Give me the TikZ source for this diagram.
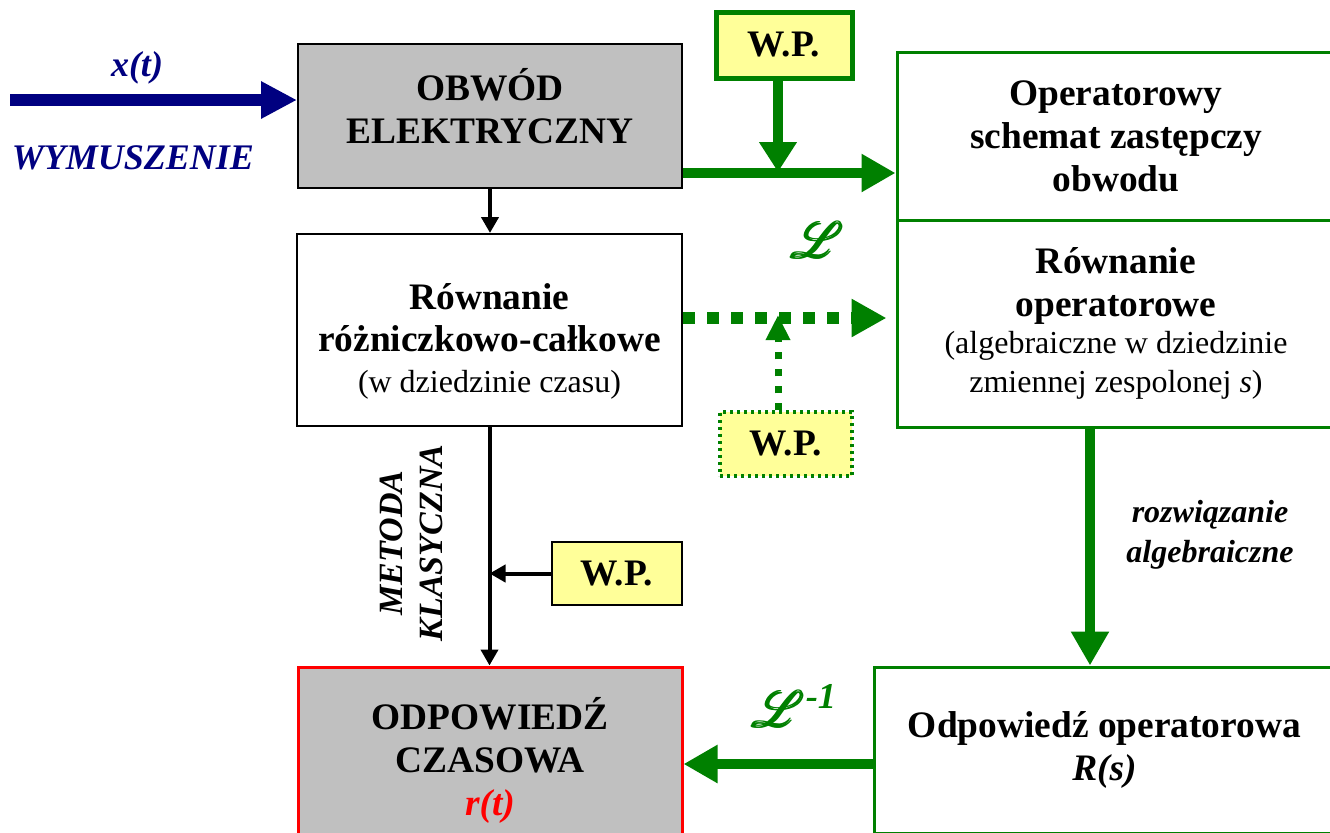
\documentclass[tikz,border=0pt]{standalone}
\usepackage{fontspec}
\setmainfont{Liberation Serif}
\usepackage{amsmath}
\usepackage{mathrsfs}
\usetikzlibrary{arrows.meta,calc}

\definecolor{ziel}{RGB}{0,128,0}
\definecolor{gran}{RGB}{0,0,128}
\definecolor{zolty}{RGB}{255,255,153}
\definecolor{szary}{RGB}{192,192,192}

\newcommand{\maly}{\normalfont\fontsize{16}{20}\selectfont}

\begin{document}
\begin{tikzpicture}[x=0.5pt,y=-0.5pt,
  blok/.style={draw, line width=1pt, align=center, inner sep=0pt, font=\fontsize{18.7}{21.5}\selectfont\bfseries},
  opblok/.style={blok, draw=ziel, line width=1.5pt},
  wp/.style={blok, fill=zolty, minimum width=66pt, minimum height=32pt},
  gruba/.style={ziel, line width=5pt, -{Triangle[length=17pt,width=18pt]}},
  cienka/.style={line width=2pt, -{Triangle[length=8pt,width=8.5pt]}},
  opis/.style={font=\fontsize{16}{20}\selectfont\bfseries\itshape, align=center}
]
  \useasboundingbox (0,0) rectangle (1330,832);
  \clip (0,0) rectangle (1330,832);

  % bloki lewe
  \node[blok, fill=szary, minimum width=192pt, minimum height=72pt] (obwod) at (490,116) {OBWÓD\\ELEKTRYCZNY\rule[-10pt]{0pt}{1pt}};
  \node[blok, minimum width=192.5pt, minimum height=96pt] (rrc) at (489.5,330)
    {\rule{0pt}{24pt}Równanie\\[-0.5pt]różniczkowo-całkowe\\[-1pt]{\maly (w dziedzinie czasu)}};
  \node[blok, draw=red, line width=1.5pt, fill=szary, minimum width=192pt, minimum height=93pt] (odpczas) at (490,760)
    {ODPOWIEDŹ\\CZASOWA\\{\color{red}\itshape r(t)}};

  % bloki prawe
  \node[opblok, minimum width=219pt, minimum height=84pt] (schemat) at (1116,136)
    {Operatorowy\\schemat zastępczy\\obwodu};
  \node[opblok, minimum width=219pt, minimum height=103.5pt] (rop) at (1116,323.5)
    {Równanie\\operatorowe\\[-3pt]{\maly (algebraiczne w dziedzinie}\\[-2pt]{\maly zmiennej zespolonej \textit{s})}};
  \node[opblok, minimum width=230.5pt, minimum height=83pt] (odpop) at (1104.5,750)
    {Odpowiedź operatorowa\\\textit{R(s)}};

  % warunki poczatkowe
  \node[wp, draw=ziel, line width=2.5pt, minimum width=68pt, minimum height=33pt] (wpg) at (784,45) {W.P.};
  \node[wp, draw=ziel, line width=1.6pt, dash pattern=on 1.6pt off 1.9pt] (wpd) at (786,444) {W.P.};
  \node[wp, minimum width=65pt, minimum height=31.5pt] (wpk) at (617,573.5) {W.P.};

  % wymuszenie
  \coordinate (xin) at (10,100);
  \draw[gran, line width=6pt, -{Triangle[length=18pt,width=17.5pt]}] (xin) -- (xin -| obwod.west);
  \node[opis, text=gran, font=\fontsize{18}{20}\selectfont\bfseries\itshape] (xt) at (137,68) {x(t)};
  \node[opis, text=gran, font=\fontsize{18}{20}\selectfont\bfseries\itshape] (wym) at (133,158) {WYMUSZENIE};

  % droga operatorowa
  \coordinate (g1) at ($(obwod.south east)+(0,-16)$);
  \coordinate (g1m) at (778,172);
  \draw[gruba] (g1) -- (g1 -| schemat.west);
  \draw[gruba, -{Triangle[length=15pt,width=18pt]}] (wpg.south -| g1m) -- (g1m);
  \node[text=ziel, font=\fontsize{26}{26}\selectfont] (lap) at (818,240) {$\pmb{\mathscr{L}}$};

  \coordinate (d1) at (rrc.east |- 0,318);
  \coordinate (d2) at (778,318);
  \draw[ziel, line width=6pt, dash pattern=on 6pt off 6pt, shorten >=4.5pt, -{Triangle[length=17.5pt,width=18pt]}]
    (d1) -- (d1 -| rop.west);
  \draw[ziel, line width=3.5pt, dash pattern=on 3.5pt off 5pt, -{Triangle[length=12.5pt,width=11.5pt]}]
    (d2 |- wpd.north) -- ($(d2)+(0,-3)$);

  % metoda klasyczna
  \draw[cienka] (obwod.south) -- (obwod.south |- rrc.north);
  \draw[cienka] (rrc.south) -- (rrc.south |- odpczas.north);
  \draw[cienka] (wpk.west) -- (wpk.west -| rrc.south);
  \node[opis, font=\fontsize{17}{20}\selectfont\bfseries\itshape, rotate=90] (metoda) at (411,543) {METODA\\KLASYCZNA};

  % rozwiazanie
  \coordinate (a1) at (1090,0);
  \draw[gruba] (a1 |- rop.south) -- (a1 |- odpop.north);
  \node[opis] (alg) at (1210,535) {rozwiązanie\\algebraiczne};

  \coordinate (b1) at (0,764);
  \draw[gruba] (b1 -| odpop.west) -- (b1 -| odpczas.east);
  \node[text=ziel, font=\fontsize{26}{26}\selectfont] (lapinv) at (795,706) {$\pmb{\mathscr{L}}$\textsuperscript{\bfseries\itshape -1}};
\end{tikzpicture}
\end{document}
